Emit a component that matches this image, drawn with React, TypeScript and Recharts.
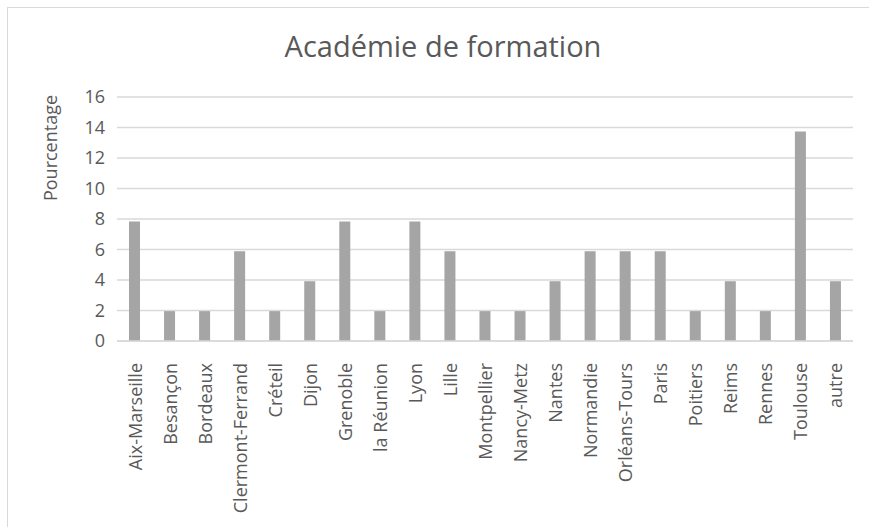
import React from "react";
import { BarChart, Bar, XAxis, YAxis, CartesianGrid } from "recharts";

// académies et pourcentages
const academies = [
  "Aix-Marseille",
  "Besançon",
  "Bordeaux",
  "Clermont-Ferrand",
  "Créteil",
  "Dijon",
  "Grenoble",
  "la Réunion",
  "Lyon",
  "Lille",
  "Montpellier",
  "Nancy-Metz",
  "Nantes",
  "Normandie",
  "Orléans-Tours",
  "Paris",
  "Poitiers",
  "Reims",
  "Rennes",
  "Toulouse",
  "autre",
];
const pourcentages = [
  7.84, 1.96, 1.96, 5.88, 1.96, 3.92, 7.84, 1.96, 7.84, 5.88, 1.96, 1.96,
  3.92, 5.88, 5.88, 5.88, 1.96, 3.92, 1.96, 13.73, 3.92,
];
const yTicks = [0, 2, 4, 6, 8, 10, 12, 14, 16];

const data = academies.map((name, i) => ({ name, value: pourcentages[i] }));

const FONT = "'Open Sans', sans-serif";
const TEXT = "#595959";

const XTick = (props: any) => {
  const { x, y, payload } = props;
  return (
    <text
      x={0}
      y={0}
      transform={`translate(${x},${y + 14}) rotate(-90)`}
      textAnchor="end"
      dominantBaseline="central"
      fontSize={18}
      fontFamily={FONT}
      fill={TEXT}
    >
      {payload.value}
    </text>
  );
};

const YLabel = () => (
  <text
    x={0}
    y={0}
    transform="translate(50,148) rotate(-90)"
    textAnchor="middle"
    dominantBaseline="central"
    fontSize={18}
    fontFamily={FONT}
    fill={TEXT}
  >
    Pourcentage
  </text>
);

export default function App() {
  return (
    <div
      style={{
        position: "absolute",
        left: 0,
        top: 0,
        width: 869,
        height: 527,
        background: "#fff",
        overflow: "hidden",
      }}
    >
      <div
        style={{
          position: "absolute",
          left: 7,
          top: 7,
          width: 900,
          height: 600,
          border: "1px solid #d9d9d9",
        }}
      />
      <div
        style={{
          position: "absolute",
          left: 0,
          top: 26,
          width: 886,
          textAlign: "center",
          fontFamily: FONT,
          fontSize: 29,
          lineHeight: "40px",
          color: TEXT,
        }}
      >
        Académie de formation
      </div>
      <div style={{ position: "absolute", left: 0, top: 0 }}>
        <BarChart
          width={869}
          height={527}
          data={data}
          margin={{ top: 97, right: 16, bottom: 0, left: 57 }}
        >
          <CartesianGrid vertical={false} stroke="#d9d9d9" strokeWidth={1.5} />
          <XAxis
            dataKey="name"
            interval={0}
            height={186}
            tick={<XTick />}
            tickLine={false}
            axisLine={{ stroke: "#d9d9d9", strokeWidth: 1.5 }}
          />
          <YAxis
            width={60}
            domain={[0, 16]}
            ticks={yTicks}
            axisLine={false}
            tickLine={false}
            tickMargin={6}
            tick={{ fontSize: 18, fontFamily: FONT, fill: TEXT }}
            label={<YLabel />}
          />
          <Bar
            dataKey="value"
            fill="#a5a5a5"
            barSize={11}
            isAnimationActive={false}
          />
        </BarChart>
      </div>
    </div>
  );
}
